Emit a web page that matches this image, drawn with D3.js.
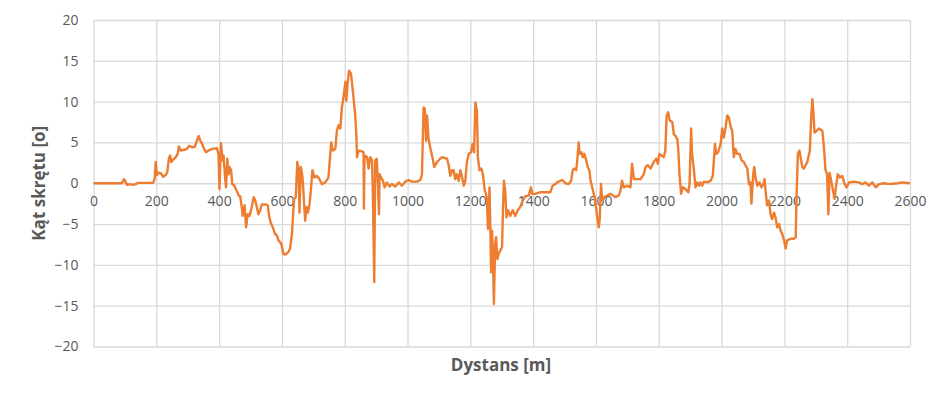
<!DOCTYPE html>
<html>
<head>
<meta charset="utf-8">
<script src="https://cdn.jsdelivr.net/npm/d3@7"></script>
<style>
  html, body { margin: 0; padding: 0; background: #fff; }
  svg { display: block; }
  .tick text { font-family: "Open Sans", "Liberation Sans", sans-serif; font-size: 14px; fill: #595959; }
  .title { font-family: "Open Sans", "Liberation Sans", sans-serif; font-weight: bold; font-size: 17px; fill: #595959; }
</style>
</head>
<body>
<svg id="chart" width="948" height="400"></svg>
<script>
const distance = [0,90,97,103,107,115,125,135,142,190,195,198,202,207,215,222,230,235,240,244,248,254,262,268,272,278,290,297,305,315,323,330,335,340,345,352,358,366,377,393,398,401,406,411,414,419,422,426,430,433,438,442,449,453,458,462,467,472,475,481,486,491,497,504,510,515,520,525,531,536,547,555,560,566,571,578,584,589,598,605,612,621,626,632,635,639,644,649,653,656,660,665,667,670,674,678,683,688,693,697,704,711,718,727,738,748,757,762,770,775,780,786,791,796,802,805,809,814,820,824,828,833,837,839,844,855,860,861,863,871,876,881,887,890,894,897,902,906,909,911,916,922,927,934,943,950,961,972,982,993,1003,1014,1030,1041,1046,1051,1055,1059,1062,1067,1072,1079,1085,1094,1104,1110,1126,1131,1136,1142,1147,1152,1157,1163,1168,1173,1179,1184,1189,1195,1202,1207,1212,1216,1221,1224,1229,1235,1240,1246,1250,1253,1256,1261,1264,1266,1269,1272,1275,1279,1282,1286,1290,1296,1301,1304,1307,1311,1315,1320,1327,1335,1343,1351,1359,1367,1375,1386,1393,1397,1407,1423,1439,1455,1462,1471,1476,1492,1503,1513,1521,1526,1531,1537,1540,1545,1548,1554,1558,1563,1569,1574,1579,1582,1588,1593,1598,1604,1609,1612,1616,1620,1627,1636,1646,1662,1673,1678,1683,1689,1699,1710,1715,1721,1731,1742,1752,1758,1765,1774,1784,1792,1797,1802,1809,1816,1821,1825,1830,1835,1843,1848,1853,1859,1862,1866,1871,1877,1885,1894,1898,1903,1906,1912,1917,1922,1928,1933,1938,1944,1954,1965,1972,1979,1983,1989,1997,2002,2007,2013,2018,2023,2029,2034,2039,2044,2050,2057,2064,2071,2076,2082,2087,2092,2095,2101,2104,2108,2114,2121,2127,2133,2137,2140,2145,2151,2156,2161,2167,2172,2177,2183,2188,2193,2199,2204,2209,2220,2230,2236,2239,2243,2248,2257,2262,2273,2281,2285,2289,2292,2296,2302,2310,2321,2326,2331,2336,2340,2344,2349,2356,2360,2364,2370,2377,2384,2392,2398,2406,2421,2437,2448,2459,2469,2480,2491,2501,2517,2538,2560,2575,2600];
const angle = [0,0,0.5,0.1,-0.2,-0.1,-0.2,-0.1,0.05,0.05,0.6,2.6,1.0,1.3,1.2,0.8,1.0,1.4,3.0,3.4,2.6,2.9,3.2,3.6,4.5,4.0,4.1,4.2,4.6,4.4,4.5,5.3,5.8,5.2,4.9,4.2,3.8,4.0,4.2,4.3,3.6,-0.7,4.9,2.8,3.4,0.7,-0.5,3.0,1.1,2.0,1.6,-0.1,-0.3,-0.7,-1.1,-1.5,-1.6,-2.9,-4.0,-2.7,-5.4,-3.8,-4.0,-2.9,-1.7,-2.1,-2.9,-3.8,-3.3,-2.6,-2.6,-2.7,-4.2,-5.0,-5.4,-6.2,-6.4,-7.0,-7.4,-8.7,-8.7,-8.4,-8.0,-6.2,-4.2,-1.9,-1.7,2.6,1.6,-3.6,2.0,0.9,-0.1,-2.1,-4.6,-2.9,-3.6,-2.5,-0.5,1.6,0.7,0.9,0.6,-0.1,0.1,0.7,5.0,4.0,4.2,6.4,7.1,6.7,9.3,10.5,12.4,10.1,12.2,13.8,13.4,12.0,10.5,8.5,6.0,3.2,4.0,3.9,3.8,-3.1,3.4,3.2,1.8,3.2,2.8,-2.1,-12.1,2.8,3.0,-0.5,-3.8,1.1,0.7,0.3,-0.5,0.1,-0.4,-0.1,-0.4,0.1,-0.3,0.2,0.4,0.2,0.2,0.4,1.1,9.3,9.1,5.2,8.3,5.4,4.4,3.2,2.0,2.6,3.0,3.2,3.0,2.2,0.9,1.6,1.6,0.5,1.1,0.3,1.6,0.9,-0.3,0.3,2.6,3.6,3.8,4.8,3.8,9.9,8.9,3.2,1.6,1.8,1.1,-0.9,-1.3,-2.1,-5.6,-0.5,-5.8,-10.9,-5.8,-9.1,-14.8,-7.4,-6.6,-9.3,-8.7,-8.2,-7.8,-2.9,0.3,-0.9,-4.2,-3.3,-4.0,-3.3,-4.0,-3.3,-2.9,-2.1,-1.6,-1.5,-0.5,-1.3,-1.3,-1.1,-1.1,-1.1,-0.3,-0.1,0.1,0.4,0.0,-0.1,0.3,1.6,1.8,1.6,2.6,5.0,3.6,3.8,3.2,3.6,2.8,2.0,1.6,0.5,-0.5,-1.3,-2.1,-4.2,-5.4,-4.4,-0.1,-2.1,-1.7,-1.5,-1.3,-1.7,-1.5,-0.9,0.3,-0.5,-0.3,-0.5,2.4,0.5,0.5,0.5,1.1,2.0,2.2,1.8,2.6,3.0,2.4,3.6,3.4,3.2,4.0,8.3,8.7,7.7,7.5,6.0,5.8,5.4,4.2,1.1,-1.3,-0.5,-0.7,-1.1,-0.1,6.7,3.6,1.6,-0.5,0.1,-0.3,0.1,-0.3,0.2,0.1,0.3,0.9,4.8,3.6,3.8,4.8,6.7,5.6,6.9,8.3,8.1,6.9,6.4,3.2,4.2,3.6,3.6,2.8,2.6,2.2,1.8,-0.1,0.1,-2.5,1.1,2.0,0.7,-0.3,0.1,-0.5,-0.1,0.5,-0.9,-2.7,-2.1,-3.8,-4.4,-3.6,-4.2,-5.4,-5.0,-5.8,-6.2,-7.0,-8.0,-7.0,-6.8,-6.8,-6.6,-1.3,3.6,4.0,2.0,1.8,2.6,4.0,7.7,10.3,8.9,6.2,6.4,6.7,6.4,4.4,1.6,1.1,-3.8,1.3,0.3,-1.1,-1.9,-0.5,1.1,0.7,0.9,-0.1,-0.5,0.1,0.2,0.1,-0.1,0.1,-0.3,0.1,-0.5,-0.1,0,-0.1,0.0,0.1,0.0];
const xTicks = [0,200,400,600,800,1000,1200,1400,1600,1800,2000,2200,2400,2600];
const yTicks = [-20,-15,-10,-5,0,5,10,15,20];
const xTitle = "Dystans [m]";
const yTitle = "Kąt skrętu [o]";

const svg = d3.select("#chart");
const x = d3.scaleLinear().domain([0, 2600]).range([93.5, 910]);
const y = d3.scaleLinear().domain([-20, 20]).range([346.5, 20]);

// gridlines
svg.append("g")
  .attr("transform", `translate(0,${y(-20)})`)
  .call(d3.axisBottom(x).tickValues(xTicks).tickSize(-(y(-20) - y(20))).tickFormat(""))
  .call(g => g.select(".domain").remove())
  .call(g => g.selectAll("line").attr("stroke", "#D9D9D9").attr("stroke-width", 1.3));
svg.append("g")
  .attr("transform", `translate(${x(0)},0)`)
  .call(d3.axisLeft(y).tickValues(yTicks).tickSize(-(x(2600) - x(0))).tickFormat(""))
  .call(g => g.select(".domain").remove())
  .call(g => g.selectAll("line").attr("stroke", "#D9D9D9").attr("stroke-width", 1.3));

// y tick labels
svg.append("g")
  .attr("transform", `translate(${x(0) - 15},0)`)
  .call(d3.axisLeft(y).tickValues(yTicks).tickSize(0).tickPadding(0).tickFormat(d3.format("d")))
  .call(g => g.select(".domain").remove());

// x tick labels at zero line
svg.append("g")
  .attr("transform", `translate(0,${y(0)})`)
  .call(d3.axisBottom(x).tickValues(xTicks).tickSize(0).tickPadding(13).tickFormat(d3.format("d")))
  .call(g => g.select(".domain").remove());

// line
const line = d3.line().x((d, i) => x(distance[i])).y((d, i) => y(angle[i]));
svg.append("path")
  .datum(angle)
  .attr("d", line)
  .attr("fill", "none")
  .attr("stroke", "#ED7D31")
  .attr("stroke-width", 2.4)
  .attr("stroke-linejoin", "round");

// titles
svg.append("text").attr("class", "title")
  .attr("x", 501).attr("y", 371).attr("text-anchor", "middle").text(xTitle);
svg.append("text").attr("class", "title")
  .attr("transform", `translate(45,${y(0)}) rotate(-90)`)
  .attr("text-anchor", "middle").text(yTitle);
</script>
</body>
</html>
